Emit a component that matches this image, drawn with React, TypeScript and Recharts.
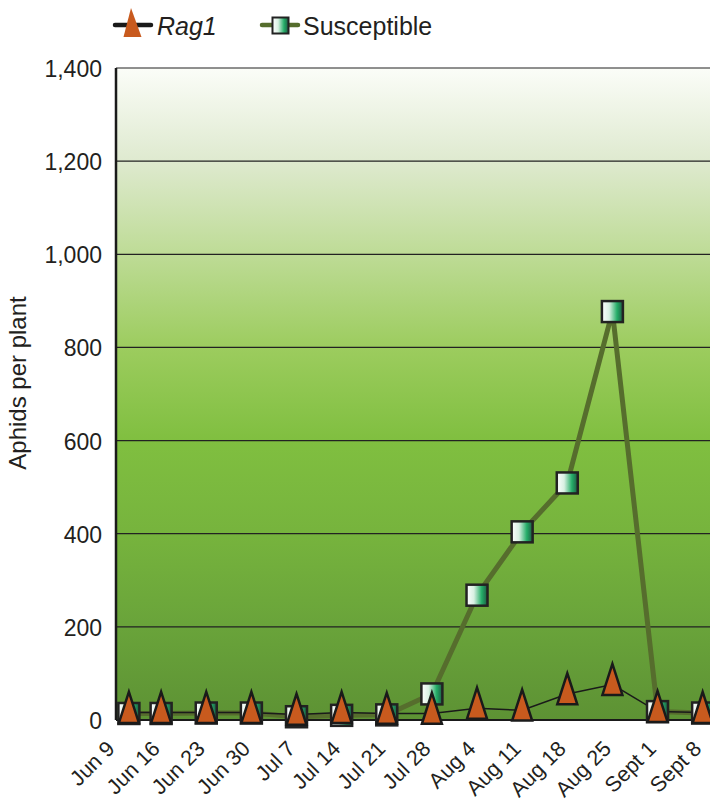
import React from 'react';
import { LineChart, Line, XAxis, YAxis, CartesianGrid } from 'recharts';

const categories = ['Jun 9', 'Jun 16', 'Jun 23', 'Jun 30', 'Jul 7', 'Jul 14', 'Jul 21', 'Jul 28', 'Aug 4', 'Aug 11', 'Aug 18', 'Aug 25', 'Sept 1', 'Sept 8'];
const tickDays = [0, 7, 14, 21, 28, 35, 42, 49, 56, 63, 70, 77, 84, 91];
const sampleDays = [2, 7, 14, 21, 28, 35, 42, 49, 56, 63, 70, 77, 84, 91];
const rag1 = [16, 16, 16, 16, 12, 16, 14, 14, 25, 21, 56, 76, 18, 16];
const susceptible = [14, 14, 15, 15, 7, 10, 11, 56, 268, 404, 509, 877, 18, 15];
const yTicks = [0, 200, 400, 600, 800, 1000, 1200, 1400];

const data = sampleDays.map((d, i) => ({ day: d, rag1: rag1[i], susceptible: susceptible[i] }));

const FONT = '"Liberation Sans", Arial, Helvetica, sans-serif';
const TEXT = '#231f20';

const TriangleDot = (props: any) => {
  const { cx, cy, index } = props;
  if (cx == null || cy == null) return null;
  const w = 20;
  const h = 31;
  const d = `M${cx},${cy - (2 * h) / 3} L${cx + w / 2},${cy + h / 3} L${cx - w / 2},${cy + h / 3} Z`;
  return <path key={`t${index}`} d={d} fill="#c85a1e" stroke="#1a1a1a" strokeWidth={2.5} strokeLinejoin="miter" />;
};

const SquareDot = (props: any) => {
  const { cx, cy, index } = props;
  if (cx == null || cy == null) return null;
  const s = 21;
  return <rect key={`s${index}`} x={cx - s / 2} y={cy - s / 2} width={s} height={s} fill="url(#sqGrad)" stroke="#222" strokeWidth={2.5} />;
};

const XTick = (props: any) => {
  const { x, y, payload } = props;
  const i = tickDays.indexOf(payload.value);
  const ax = x;
  const ay = y + 28;
  return (
    <text x={ax} y={ay} textAnchor="end" transform={`rotate(-45 ${ax} ${ay})`} fontSize={21.5} fill={TEXT} fontFamily={FONT}>
      {i >= 0 ? categories[i] : ''}
    </text>
  );
};

const YTick = (props: any) => {
  const { x, y, payload } = props;
  return (
    <text x={x} y={y + 9} textAnchor="end" fontSize={23} fill={TEXT} fontFamily={FONT}>
      {Number(payload.value).toLocaleString('en-US')}
    </text>
  );
};

const YLabel = () => (
  <text x={26} y={383} textAnchor="middle" transform="rotate(-90 26 383)" fontSize={24} fill={TEXT} fontFamily={FONT}>
    Aphids per plant
  </text>
);

const LegendBox = () => (
  <div style={{ position: 'absolute', left: 0, top: 0, width: 710, height: 50, pointerEvents: 'none' }}>
    <svg width={710} height={50} style={{ position: 'absolute', left: 0, top: 0 }}>
      <defs>
        <linearGradient id="sqGradL" x1="0" y1="0" x2="1" y2="0">
          <stop offset="0" stopColor="#ffffff" />
          <stop offset="0.35" stopColor="#d8f0e2" />
          <stop offset="0.72" stopColor="#25ad68" />
          <stop offset="1" stopColor="#1d5a42" />
        </linearGradient>
      </defs>
      <line x1={115} y1={25} x2={151} y2={25} stroke="#1a1a1a" strokeWidth={4.5} strokeLinecap="round" />
      <path d="M131,8 L141.5,37 L123.5,37 Z" fill="#c85a1e" />
      <text x={157} y={35} fontSize={25} fontStyle="italic" fill={TEXT} fontFamily={FONT}>Rag1</text>
      <line x1={262} y1={25} x2={298} y2={25} stroke="#566d2d" strokeWidth={4.5} strokeLinecap="round" />
      <rect x={272.5} y={17.5} width={16} height={16} fill="url(#sqGradL)" stroke="#222" strokeWidth={2} />
      <text x={303} y={35} fontSize={25} fill={TEXT} fontFamily={FONT}>Susceptible</text>
    </svg>
  </div>
);

export default function App() {
  return (
    <div style={{ position: 'absolute', left: 0, top: 0, width: 710, height: 799, overflow: 'hidden', background: '#fff', fontFamily: FONT }}>
      <LineChart width={740} height={799} data={data} margin={{ top: 68, right: 18, bottom: 0, left: 0 }}>
        <defs>
          <linearGradient id="bgGrad" x1="0" y1="0" x2="0" y2="1">
            <stop offset="0" stopColor="#fbfdf8" />
            <stop offset="0.14" stopColor="#dfead0" />
            <stop offset="0.28" stopColor="#bfdc98" />
            <stop offset="0.43" stopColor="#9ccc5e" />
            <stop offset="0.57" stopColor="#80bf40" />
            <stop offset="0.72" stopColor="#76b33d" />
            <stop offset="0.86" stopColor="#69a33a" />
            <stop offset="1" stopColor="#5d9234" />
          </linearGradient>
          <linearGradient id="sqGrad" x1="0" y1="0" x2="1" y2="0">
            <stop offset="0" stopColor="#ffffff" />
            <stop offset="0.35" stopColor="#d8f0e2" />
            <stop offset="0.72" stopColor="#25ad68" />
            <stop offset="1" stopColor="#1d5a42" />
          </linearGradient>
        </defs>
        <CartesianGrid vertical={false} stroke="#222" strokeWidth={1.2} fill="url(#bgGrad)" fillOpacity={1} />
        <XAxis
          type="number"
          dataKey="day"
          domain={[0, 94]}
          ticks={tickDays}
          interval={0}
          height={79}
          tickSize={0}
          tickLine={false}
          tick={<XTick />}
          axisLine={{ stroke: '#1a1a1a', strokeWidth: 2 }}
          allowDataOverflow
        />
        <YAxis
          type="number"
          domain={[0, 1400]}
          ticks={yTicks}
          interval={0}
          width={116}
          tickSize={0}
          tickMargin={14}
          tickLine={false}
          tick={<YTick />}
          axisLine={{ stroke: '#1a1a1a', strokeWidth: 2.5 }}
          label={<YLabel />}
        />
        <Line
          type="linear"
          dataKey="susceptible"
          stroke="#566d2d"
          strokeWidth={5}
          dot={<SquareDot />}
          activeDot={false}
          isAnimationActive={false}
        />
        <Line
          type="linear"
          dataKey="rag1"
          stroke="#1a1a1a"
          strokeWidth={1.5}
          dot={<TriangleDot />}
          activeDot={false}
          isAnimationActive={false}
        />
      </LineChart>
      <LegendBox />
    </div>
  );
}
